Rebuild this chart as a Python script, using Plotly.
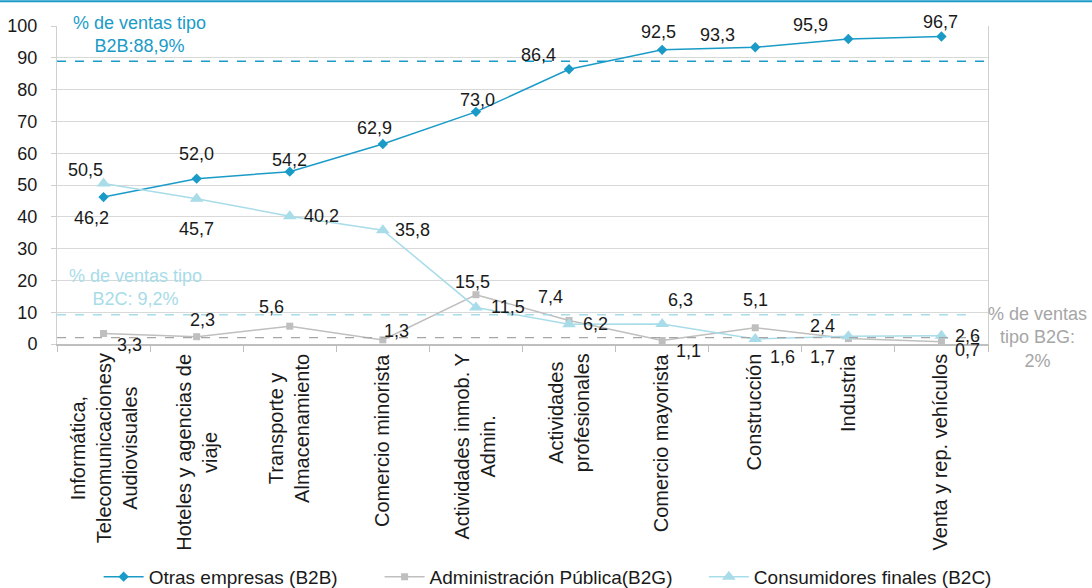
import plotly.graph_objects as go

# ---------------- data ----------------
categories = [
    "Informática,<br>Telecomunicacionesy<br>Audiovisuales",
    "Hoteles y agencias de<br>viaje",
    "Transporte y<br>Almacenamiento",
    "Comercio minorista",
    "Actividades inmob. Y<br>Admin.",
    "Actividades<br>profesionales",
    "Comercio mayorista",
    "Construcción",
    "Industria",
    "Venta y rep. vehículos",
]
b2b = [46.2, 52.0, 54.2, 62.9, 73.0, 86.4, 92.5, 93.3, 95.9, 96.7]
b2g = [3.3, 2.3, 5.6, 1.3, 15.5, 7.4, 1.1, 5.1, 1.7, 0.7]
b2c = [50.5, 45.7, 40.2, 35.8, 11.5, 6.2, 6.3, 1.6, 2.4, 2.6]

series_names = ["Otras empresas (B2B)", "Administración Pública(B2G)", "Consumidores finales (B2C)"]

avg_b2b = 88.9
avg_b2c = 9.2
avg_b2g = 2.0
avg_b2b_text = "% de ventas tipo<br>B2B:88,9%"
avg_b2c_text = "% de ventas tipo<br>B2C: 9,2%"
avg_b2g_text = "% de ventas<br>tipo B2G:<br>2%"

y_ticks = list(range(0, 101, 10))

# ---------------- styles ----------------
C_B2B = "#1a9bc7"
C_B2G = "#bfbfbf"
C_B2C = "#a8dce9"
C_TXT = "#1a1a1a"
FONT = "Liberation Sans, Arial, sans-serif"

# label offsets (px): (xshift, yshift)
off_b2b = [(-12, -21), (0, 25), (0, 12), (-8, 16), (2, 12), (-31, 14), (-4, 18), (-38, 12), (-38, 14), (-1, 14)]
off_b2c = [(-18, 13), (0, -30), (32, 0), (30, 0), (32, 0), (26, 0), (18, 24), (27, -18), (-26, 10), (26, 0)]
off_b2g = [(26, -11), (6, 17), (-18, 19), (14, 9), (-3, 13), (-19, 23), (26, -10), (0, 28), (-26, -18), (26, -8)]
xlab_shift = [0, 0, -1, -1, -1, 0, -1, -1, -1, -1]
legend_pad = [7, 5, 0]

fig = go.Figure()
styles = [
    (b2b, C_B2B, "diamond", 8),
    (b2g, C_B2G, "square", 7),
    (b2c, C_B2C, "triangle-up", 12),
]
for (vals, col, sym, sz), name, pad in zip(styles, series_names, legend_pad):
    fig.add_trace(go.Scatter(
        x=categories, y=vals, mode="lines+markers", name=name + "\u00a0" * pad,
        line=dict(color=col, width=1.5),
        marker=dict(symbol=sym, size=sz, color=col),
        cliponaxis=False,
    ))

def fmt(v):
    return f"{v:.1f}".replace(".", ",")

annotations = []
for vals, offs in ((b2b, off_b2b), (b2c, off_b2c), (b2g, off_b2g)):
    for cat, v, (dx, dy) in zip(categories, vals, offs):
        annotations.append(dict(
            x=cat, y=v, xref="x", yref="y", text=fmt(v), showarrow=False,
            xshift=dx, yshift=dy, font=dict(size=18, color=C_TXT, family=FONT),
        ))

# x category labels (rotated, centred lines)
for cat, dx in zip(categories, xlab_shift):
    annotations.append(dict(
        x=cat, y=-0.024, xref="x", yref="paper", text=cat, showarrow=False,
        textangle=-90, xanchor="center", yanchor="top", align="center", xshift=dx,
        font=dict(size=20, color=C_TXT, family=FONT),
    ))

# reference-line texts
annotations.append(dict(x=0.089, y=0.972, xref="paper", yref="paper", text=avg_b2b_text,
                        showarrow=False, align="center", xanchor="center", yanchor="middle",
                        font=dict(size=18, color=C_B2B, family=FONT)))
annotations.append(dict(x=0.084, y=0.1775, xref="paper", yref="paper", text=avg_b2c_text,
                        showarrow=False, align="center", xanchor="center", yanchor="middle",
                        font=dict(size=18, color=C_B2C, family=FONT)))
annotations.append(dict(x=1.0537, y=0.022, xref="paper", yref="paper", text=avg_b2g_text,
                        showarrow=False, align="center", xanchor="center", yanchor="middle",
                        font=dict(size=18, color="#a6a6a6", family=FONT)))

shapes = [
    dict(type="line", xref="paper", yref="y", x0=0, x1=1.0054, y0=avg_b2b, y1=avg_b2b,
         line=dict(color=C_B2B, width=1.5, dash="dash")),
    dict(type="line", xref="paper", yref="y", x0=0, x1=0.98, y0=avg_b2c, y1=avg_b2c,
         line=dict(color=C_B2C, width=1.5, dash="dash")),
    dict(type="line", xref="paper", yref="y", x0=0, x1=0.99, y0=avg_b2g, y1=avg_b2g,
         line=dict(color="#a6a6a6", width=1.2, dash="dash")),
    dict(type="line", xref="paper", yref="paper", x0=-0.07, x1=1.12, y0=1.0776, y1=1.0776,
         line=dict(color=C_B2B, width=2)),
]

fig.update_layout(
    width=1092, height=588,
    margin=dict(l=57, r=104, t=26, b=244, autoexpand=False),
    paper_bgcolor="white", plot_bgcolor="white",
    font=dict(family=FONT, size=18, color=C_TXT),
    showlegend=True,
    legend=dict(orientation="h", x=0.527, xanchor="center", y=-0.732, yanchor="middle",
                itemwidth=40,
                font=dict(size=19, color=C_TXT, family=FONT), bgcolor="rgba(0,0,0,0)"),
    annotations=annotations,
    shapes=shapes,
    xaxis=dict(
        type="category", showticklabels=False, showgrid=False, automargin=False,
        showline=True, linecolor="#bfbfbf", linewidth=2, mirror=False,
        ticks="outside", tickson="boundaries", ticklen=6, tickcolor="#bfbfbf", tickwidth=1,
        range=[-0.5, len(categories) - 0.5],
    ),
    yaxis=dict(
        range=[0, 100], tickvals=y_ticks, showgrid=True, gridcolor="#d9d9d9", gridwidth=1,
        showline=True, linecolor="#d0d0d0", linewidth=1, mirror=True, automargin=False,
        ticks="outside", ticklen=5, tickcolor="#d0d0d0", ticklabelstandoff=10,
        tickfont=dict(size=18, color=C_TXT, family=FONT), zeroline=False,
    ),
)

fig.write_html(
    "out.html",
    config={"displayModeBar": False},
    post_script="document.body.style.margin='0';document.body.style.padding='0';document.body.style.overflow='hidden';",
)
